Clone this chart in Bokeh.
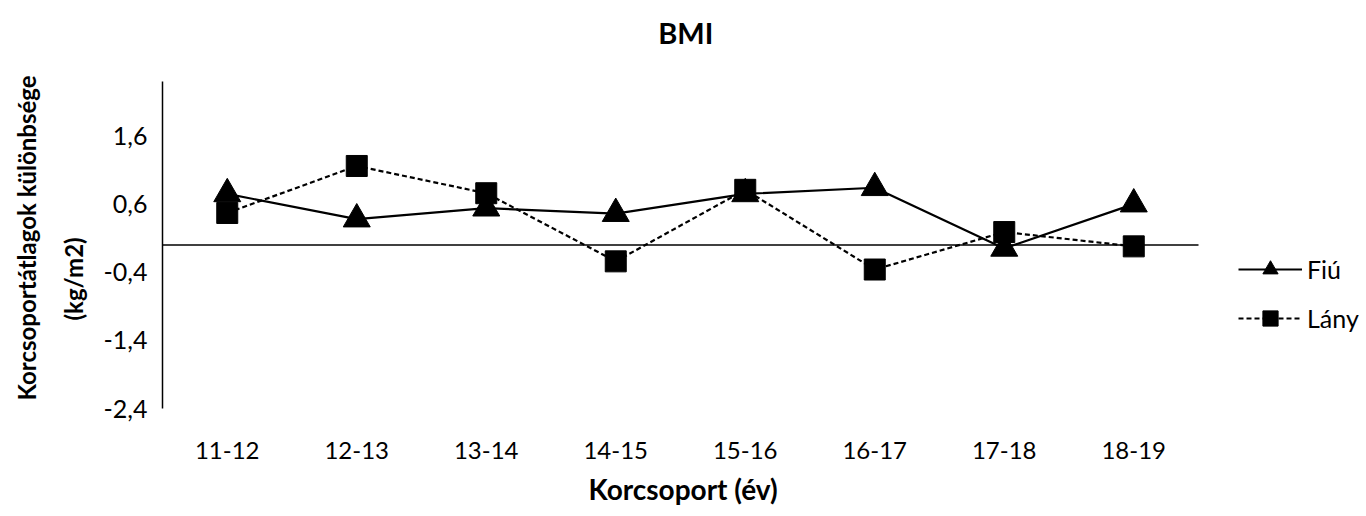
from bokeh.plotting import figure
from bokeh.models import Range1d, Legend, LegendItem, FixedTicker, ColumnDataSource, Title, Label
from bokeh.embed import file_html
from bokeh.resources import INLINE

# Age groups and BMI differences of group means (kg/m2)
age_groups = ["11-12", "12-13", "13-14", "14-15", "15-16", "16-17", "17-18", "18-19"]
fiu = [0.75, 0.38, 0.54, 0.46, 0.75, 0.84, -0.05, 0.60]
lany = [0.47, 1.16, 0.76, -0.24, 0.81, -0.36, 0.19, -0.02]
y_ticks = [-2.4, -1.4, -0.4, 0.6, 1.6]
y_min, y_max = -2.4, 2.4

FONT = "Lato"

# category slots are one unit wide; markers sit in the middle of each slot
xs = [i + 0.5 for i in range(len(age_groups))]
n_slots = len(age_groups)

src = ColumnDataSource(dict(x=xs, fiu=fiu, lany=lany))

# The frame fills the canvas to the right and top edges so that the title and
# the legend can be drawn inside it; the value axis itself stops at y_max.
plot_px = 327          # height of the value area
top_px = 81            # room above it for the title
y_top = y_max + (y_max - y_min) * top_px / plot_px

p = figure(
    width=1366, height=516,
    x_range=Range1d(0, n_slots * 1204 / 1036),
    y_range=Range1d(y_min, y_top),
    output_backend="svg", toolbar_location=None,
    min_border_left=162, min_border_right=0,
    min_border_top=0, min_border_bottom=108,
)
p.outline_line_color = None
p.xgrid.grid_line_color = None
p.ygrid.grid_line_color = None
p.background_fill_color = "white"
p.border_fill_color = "white"

# chart title
p.add_layout(Label(x=n_slots / 2 + 0.04, y=y_max + 0.72, text="BMI",
                   text_align="center", text_baseline="middle",
                   text_font=FONT, text_font_size="29px", text_font_style="bold",
                   text_color="black"))

# y axis
yax = p.yaxis[0]
yax.bounds = (y_min, y_max)
yax.ticker = FixedTicker(ticks=y_ticks)
yax.major_label_overrides = {t: f"{t:.1f}".replace(".", ",") for t in y_ticks}
yax.axis_line_color = "black"
yax.axis_line_width = 1.5
yax.major_tick_out = 0
yax.major_tick_in = 0
yax.minor_tick_out = 0
yax.minor_tick_in = 0
yax.major_label_standoff = 15
yax.major_label_text_font = FONT
yax.major_label_text_font_size = "25px"
yax.major_label_text_color = "black"

# y axis title in two lines, measured up from the bottom of the value axis
title_style = dict(text_font=FONT, text_font_size="24px", text_font_style="bold",
                   text_color="black", align="left")
p.add_layout(Title(text="(kg/m2)", offset=88, standoff=26, **title_style), "left")
p.add_layout(Title(text="Korcsoportátlagok különbsége", offset=8, standoff=6,
                   **title_style), "left")

# x axis: category labels in the middle of each slot
xax = p.xaxis[0]
xax.ticker = FixedTicker(ticks=xs)
xax.major_label_overrides = {x: g for x, g in zip(xs, age_groups)}
xax.axis_line_color = None
xax.major_tick_line_color = None
xax.minor_tick_line_color = None
xax.major_label_standoff = 27
xax.major_label_text_font = FONT
xax.major_label_text_font_size = "24px"
xax.major_label_text_color = "black"

p.add_layout(Title(text="Korcsoport (év)", align="left", offset=426,
                   standoff=16,
                   text_font=FONT, text_font_size="28px", text_font_style="bold",
                   text_color="black"), "below")

# zero line across the category slots
p.line(x=[0, n_slots], y=[0, 0], line_color="black", line_width=1.5)

l1 = p.line("x", "fiu", source=src, line_color="black", line_width=2.2)
m1 = p.scatter("x", "fiu", source=src, marker="triangle", size=27,
               fill_color="black", line_color="black")
l2 = p.line("x", "lany", source=src, line_color="black", line_width=2.2, line_dash="5 3")
m2 = p.scatter("x", "lany", source=src, marker="square", size=21,
               fill_color="black", line_color="black")

legend = Legend(
    items=[LegendItem(label="Fiú", renderers=[l1, m1]),
           LegendItem(label="Lány", renderers=[l2, m2])],
    location=(1076, 71),
    glyph_width=64, glyph_height=38, label_height=38,
    spacing=11, padding=0, margin=0, label_standoff=5,
    border_line_color=None, background_fill_alpha=0,
    label_text_font=FONT, label_text_font_size="25px", label_text_color="black",
)
p.add_layout(legend)

open("out.html", "w").write(file_html(p, INLINE))
